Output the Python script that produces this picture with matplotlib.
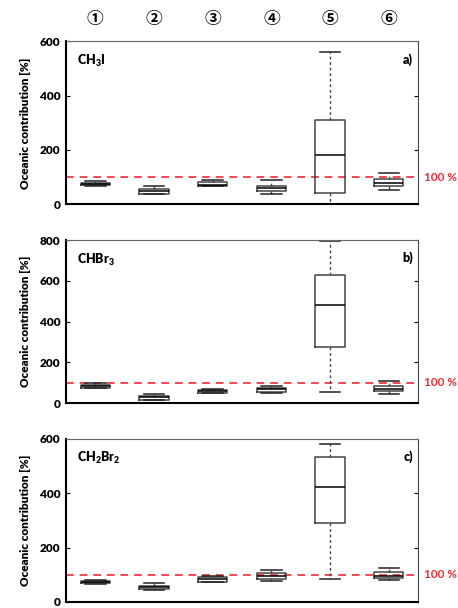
import matplotlib
matplotlib.use('Agg')
import matplotlib.pyplot as plt
import matplotlib.transforms as mtransforms

plt.rcParams['font.family'] = ['Lato', 'DejaVu Sans']
plt.rcParams['font.weight'] = 'heavy'
plt.rcParams['mathtext.fontset'] = 'custom'
plt.rcParams['mathtext.rm'] = 'Lato:heavy'
plt.rcParams['mathtext.default'] = 'rm'

# box statistics: whisker low, q1, median, q3, whisker high
compounds = ['CH$_3$I', 'CHBr$_3$', 'CH$_2$Br$_2$']
panel_tags = ['a)', 'b)', 'c)']
y_max = [600, 800, 600]
site_labels = ['①', '②', '③', '④', '⑤', '⑥']

ch3i_whislo = [69, 37, 66, 37, 0, 54]
ch3i_q1 = [72, 39, 69, 49, 43, 69]
ch3i_med = [76, 49, 72, 60, 182, 78]
ch3i_q3 = [80, 56, 83, 69, 312, 93]
ch3i_whishi = [84, 67, 91, 88, 560, 116]

chbr3_whislo = [72, 13, 49, 52, 54, 47]
chbr3_q1 = [75, 16, 52, 56, 276, 59]
chbr3_med = [82, 28, 60, 67, 480, 70]
chbr3_q3 = [88, 36, 64, 75, 629, 82]
chbr3_whishi = [100, 46, 69, 85, 797, 108]

ch2br2_whislo = [66, 44, 72, 78, 86, 82]
ch2br2_q1 = [69, 48, 75, 86, 291, 89]
ch2br2_med = [73, 54, 83, 96, 424, 96]
ch2br2_q3 = [78, 59, 91, 107, 534, 109]
ch2br2_whishi = [81, 69, 94, 119, 582, 126]

all_stats = [
    (ch3i_whislo, ch3i_q1, ch3i_med, ch3i_q3, ch3i_whishi),
    (chbr3_whislo, chbr3_q1, chbr3_med, chbr3_q3, chbr3_whishi),
    (ch2br2_whislo, ch2br2_q1, ch2br2_med, ch2br2_q3, ch2br2_whishi),
]

ref_line = 100

fig = plt.figure(figsize=(4.58, 6.08), dpi=100)
bottoms = [0.664, 0.337, 0.01]
red = '#ee2a35'

for i, (lo, q1, med, q3, hi) in enumerate(all_stats):
    ax = fig.add_axes([0.144, bottoms[i], 0.769, 0.268])
    stats = []
    for k in range(len(med)):
        stats.append({'whislo': lo[k], 'q1': q1[k], 'med': med[k],
                      'q3': q3[k], 'whishi': hi[k], 'fliers': []})
    ax.bxp(stats, positions=range(1, 7), widths=0.5, showfliers=False,
           boxprops=dict(color='#444444', linewidth=1.1),
           medianprops=dict(color='black', linewidth=1.1),
           whiskerprops=dict(color='#444444', linewidth=1.0, linestyle=(0, (2, 2))),
           capprops=dict(color='#222222', linewidth=1.1),
           capwidths=0.35)
    ax.axhline(ref_line, color=red, linestyle=(0, (4, 3)), linewidth=1.4, alpha=0.85, zorder=0)
    ax.text(1.016, ref_line, '100 %', color=red, fontsize=8.5, fontweight='bold',
            transform=mtransforms.blended_transform_factory(ax.transAxes, ax.transData),
            va='center', ha='left')

    ax.set_xlim(0.5, 6.5)
    ax.set_ylim(0, y_max[i])
    ax.set_yticks(range(0, y_max[i] + 1, 200))
    ax.set_xticks([])
    ax.tick_params(axis='y', direction='in', right=True, length=3, labelsize=8.5, pad=4)
    for lab in ax.get_yticklabels():
        lab.set_fontweight('heavy')
    ax.set_ylabel('Oceanic contribution [%]', fontsize=8.5, fontweight='heavy', labelpad=6)

    ax.spines['left'].set_linewidth(1.5)
    ax.spines['bottom'].set_linewidth(1.5)
    ax.spines['top'].set_linewidth(0.8)
    ax.spines['right'].set_linewidth(0.8)
    ax.spines['top'].set_color('#666666')
    ax.spines['right'].set_color('#444444')

    ax.text(0.03, 0.93, compounds[i], transform=ax.transAxes, fontsize=9,
            fontweight='heavy', va='top', ha='left')
    ax.text(0.985, 0.93, panel_tags[i], transform=ax.transAxes, fontsize=9,
            fontweight='heavy', va='top', ha='right')

    if i == 0:
        trans = mtransforms.blended_transform_factory(ax.transData, ax.transAxes)
        for k, s in enumerate(site_labels):
            ax.text(k + 1, 1.14, s, transform=trans, ha='center', va='center',
                    fontsize=12, fontweight='bold',
                    family=['Noto Sans CJK SC', 'DejaVu Sans'])

fig.savefig('out.png', dpi=100, facecolor='white')
